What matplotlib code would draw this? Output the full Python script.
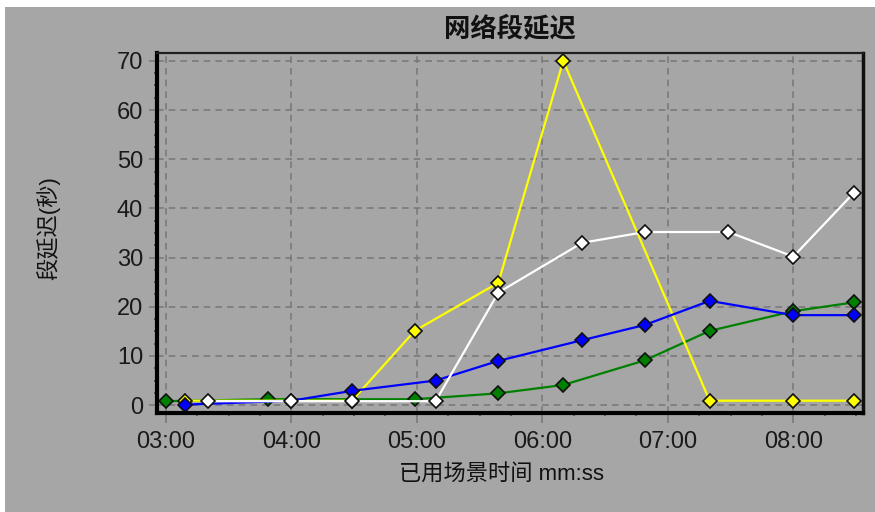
import numpy as np
import matplotlib.pyplot as plt
from matplotlib.patches import Rectangle
from matplotlib.ticker import FuncFormatter, MultipleLocator

plt.rcParams['font.family'] = ['Liberation Sans', 'Noto Sans CJK SC', 'DejaVu Sans']

# elapsed time in seconds, segment delay in seconds
green_t = [180, 229, 299, 339, 370, 409, 440, 480, 509]
green_y = [0.8, 1.2, 1.2, 2.4, 4.1, 9.1, 15.1, 19.1, 20.9]

yellow_t = [189, 269, 299, 339, 370, 440, 480, 509]
yellow_y = [0.9, 0.9, 15.1, 24.9, 70, 0.9, 0.9, 0.9]

blue_t = [189, 240, 269, 309, 339, 379, 409, 440, 480, 509]
blue_y = [0.1, 0.9, 2.9, 5.0, 9.0, 13.2, 16.3, 21.2, 18.3, 18.3]

white_t = [200, 240, 269, 309, 339, 379, 409, 449, 480, 509]
white_y = [0.8, 0.8, 0.8, 0.8, 22.9, 33.0, 35.2, 35.2, 30.2, 43.2]

x_ticks = [180, 240, 300, 360, 420, 480]
y_ticks = [0, 10, 20, 30, 40, 50, 60, 70]

gray = '#a6a6a6'

fig = plt.figure(figsize=(8.75, 5.12), dpi=100, facecolor='white')
fig.patches.append(Rectangle((5 / 875, 0), 1, (512 - 7) / 512, transform=fig.transFigure,
                             facecolor=gray, edgecolor='none', zorder=-10))

ax = fig.add_axes([157 / 875, 1 - 413 / 512, (863 - 157) / 875, (413 - 53) / 512])
ax.set_facecolor(gray)

# series, bottom to top
for t, y, c in [(green_t, green_y, '#008000'),
                (yellow_t, yellow_y, '#ffff00'),
                (blue_t, blue_y, '#0000ff'),
                (white_t, white_y, '#ffffff')]:
    ax.plot(t, y, color=c, lw=1.6, marker='D', markersize=7.5,
            markerfacecolor=c, markeredgecolor='#101010', markeredgewidth=1.2)

ax.set_xlim(175.8, 513.3)
ax.set_ylim(-1.6, 71.6)
ax.set_xticks(x_ticks)
ax.set_yticks(y_ticks)
ax.xaxis.set_major_formatter(FuncFormatter(lambda v, p: '%02d:%02d' % (v // 60, v % 60)))
ax.xaxis.set_minor_locator(MultipleLocator(15))
ax.yaxis.set_minor_locator(MultipleLocator(2.5))

ax.grid(True, which='major', color='#7a7a7a', linestyle=(0, (4, 3)), linewidth=1.2)
ax.tick_params(axis='y', which='major', length=6, width=1.2, color='#7a7a7a', pad=4,
               labelsize=17, labelcolor='#1a1a1a')
ax.tick_params(axis='x', which='major', length=7, width=1.2, color='#7a7a7a', pad=6,
               labelsize=17, labelcolor='#1a1a1a')
ax.tick_params(which='minor', length=2.5, width=1.2, color='#505050')

for side in ['left', 'bottom']:
    ax.spines[side].set_linewidth(3)
    ax.spines[side].set_color('black')
ax.spines['top'].set_linewidth(1.6)
ax.spines['top'].set_color('#202020')
ax.spines['right'].set_linewidth(2.5)
ax.spines['right'].set_color('#101010')

fig.text(510 / 875, 1 - 28 / 512, '网络段延迟', ha='center', va='center',
         fontsize=19, fontweight='bold', color='#111111')
fig.text(501 / 875, 1 - 475 / 512, '已用场景时间 mm:ss', ha='center', va='center',
         fontsize=16, color='#111111')
fig.text(48 / 875, 1 - 228 / 512, '段延迟(秒)', ha='center', va='center',
         rotation=90, fontsize=16, color='#111111')

fig.savefig('out.png', dpi=100, facecolor=fig.get_facecolor())
